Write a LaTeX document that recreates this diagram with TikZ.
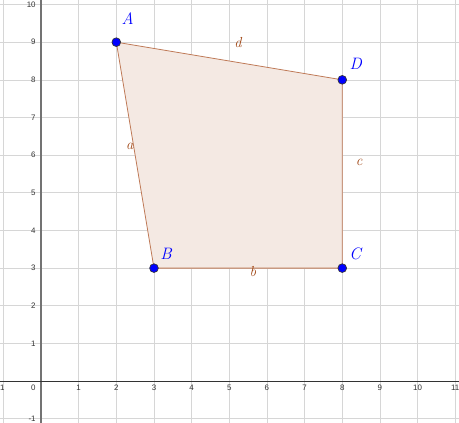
\documentclass[tikz,border=0pt]{standalone}
\usepackage{fontspec}
\newfontfamily\ticksf{Liberation Sans}
\definecolor{gridc}{RGB}{214,214,214}
\definecolor{edgec}{RGB}{190,120,85}
\definecolor{fillc}{RGB}{244,233,227}
\definecolor{labc}{RGB}{160,70,20}
\definecolor{ptc}{RGB}{0,0,255}
\tikzset{
  pt/.style={circle,fill=ptc,draw=black!80,line width=0.5pt,inner sep=0pt,minimum size=6.6pt},
  ptlab/.style={text=ptc,font=\fontsize{12.5}{14}\selectfont\itshape},
  edgelab/.style={text=labc,font=\fontsize{11}{13}\selectfont\itshape},
  tick/.style={font=\ticksf\fontsize{6}{6}\selectfont,text=black!80,inner sep=1pt}
}
\begin{document}
\begin{tikzpicture}
\useasboundingbox (-1.089,-1.089) rectangle (11.10,10.12);
\clip (-1.089,-1.089) rectangle (11.10,10.12);
\fill[white] (-1.089,-1.089) rectangle (11.10,10.12);
\draw[gridc,line width=0.5pt] (-2,-2) grid (12,11);
% polygon
\coordinate (pA) at (2,9);
\coordinate (pB) at (3,3);
\coordinate (pC) at (8,3);
\coordinate (pD) at (8,8);
\fill[fillc] (pA) -- (pB) -- (pC) -- (pD) -- cycle;
% axes
\draw[black!55,line width=1.3pt] (0,-2) -- (0,11);
\draw[black!80,line width=0.6pt] (-2,0) -- (12,0);
% tick labels
\node[tick,anchor=north] (txm1) at (-1.06,-0.07) {-1};
\foreach \x in {1,2,...,11} \node[tick,anchor=north] (tx\x) at (\x,-0.07) {\x};
\node[tick,anchor=north east] (t0) at (-0.1,-0.07) {0};
\foreach \y in {-1,1,2,...,10} \node[tick,anchor=east] (ty\y) at (-0.1,\y) {\y};
% edges
\draw[edgec,line width=0.6pt] (pA) -- (pB) -- (pC) -- (pD) -- cycle;
\node[edgelab] (la) at (2.36,6.24) {a};
\node[edgelab] (lb) at (5.63,2.9) {b};
\node[edgelab] (lc) at (8.45,5.82) {c};
\node[edgelab] (ld) at (5.23,9.0) {d};
% points
\node[pt] (A) at (pA) {};
\node[pt] (B) at (pB) {};
\node[pt] (C) at (pC) {};
\node[pt] (D) at (pD) {};
\node[ptlab] (lA) at (2.3,9.62) {A};
\node[ptlab] (lB) at (3.32,3.38) {B};
\node[ptlab] (lC) at (8.34,3.38) {C};
\node[ptlab] (lD) at (8.36,8.42) {D};
\end{tikzpicture}
\end{document}
